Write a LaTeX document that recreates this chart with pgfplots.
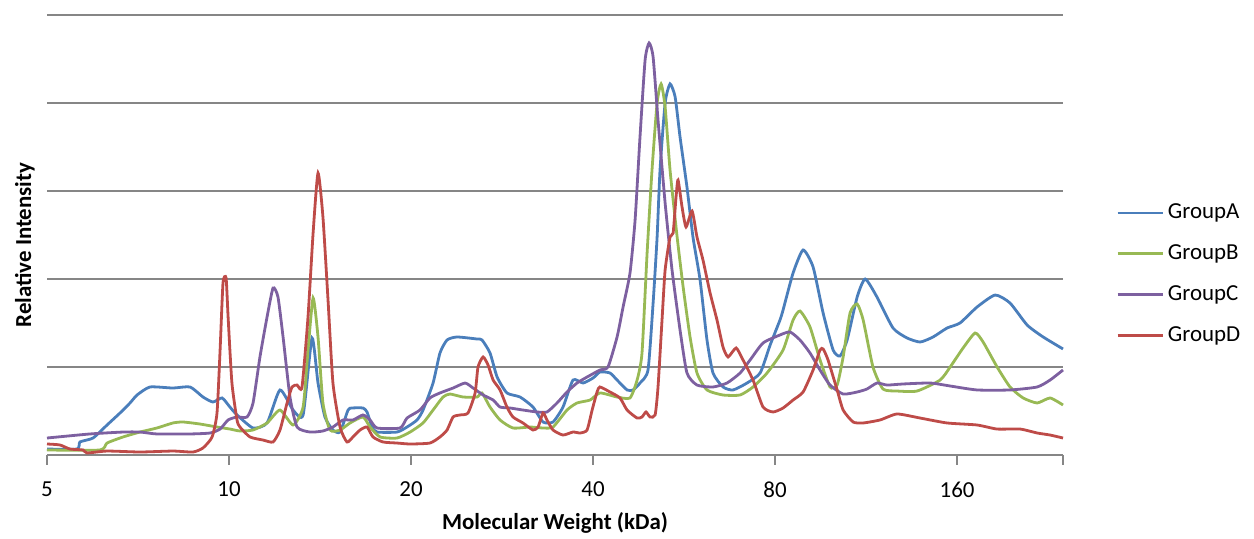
\documentclass[border=0pt]{standalone}
\usepackage{pgfplots}
\pgfplotsset{compat=1.18}
\usepackage{fontspec}
\setmainfont{Carlito}

\definecolor{cA}{HTML}{4A7EBB}
\definecolor{cB}{HTML}{98B954}
\definecolor{cC}{HTML}{7D60A0}
\definecolor{cD}{HTML}{BE4B48}
\definecolor{gridgray}{HTML}{868686}

% x: octaves above 5 kDa (log2 scale), y: relative intensity
\begin{document}
\begin{tikzpicture}[x=1bp,y=1bp]
\path[use as bounding box] (-23.5bp,-42bp) rectangle (603.5bp,227.5bp);
\begin{axis}[
    scale only axis,
    width=508bp, height=220bp,
    xmin=0, xmax=5.582,
    ymin=0, ymax=5,
    font=\fontsize{11.5}{13}\selectfont,
    axis x line*=bottom,
    axis y line*=left,
    x axis line style={gridgray, line width=0.75bp},
    y axis line style={draw=none},
    xtick={0,1,2,3,4,5},
    xticklabels={5,10,20,40,80,160},
    extra x ticks={5.582},
    extra x tick labels={},
    xtick align=outside,
    major tick length=5bp,
    xtick style={gridgray, line width=0.75bp},
    ytick style={draw=none},
    xticklabel style={yshift=-5bp},
    ytick={1,2,3,4,5},
    yticklabels={},
    ymajorgrids,
    grid style={gridgray, line width=0.75bp},
    xlabel={\textbf{Molecular Weight (kDa)}},
    ylabel={\textbf{Relative Intensity}},
    x label style={at={(axis description cs:0.5,-0.1545)}, anchor=center},
    y label style={at={(axis description cs:-0.0217,0.477)}, anchor=center},
    legend style={at={(axis description cs:1.046,0.411)}, anchor=west,
        draw=none, fill=none, row sep=7.5bp, font=\fontsize{11.5}{13}\selectfont},
    legend cell align=left,
    legend image code/.code={\draw[#1] (0bp,0bp) -- (22.5bp,0bp);},
    every axis plot/.append style={line width=1.4bp, smooth, tension=0.35},
    clip=false,
]
\addplot[cA] coordinates {
(0,0.068) (0.165,0.068) (0.181,0.148) (0.253,0.193) (0.330,0.341) (0.401,0.477)
(0.456,0.591) (0.495,0.682) (0.566,0.773) (0.692,0.761) (0.786,0.773) (0.857,0.659)
(0.912,0.602) (0.962,0.648) (1.005,0.545) (1.044,0.455) (1.132,0.307) (1.209,0.364)
(1.280,0.739) (1.352,0.511) (1.407,0.455) (1.456,1.330) (1.489,0.818) (1.527,0.432)
(1.571,0.284) (1.610,0.261) (1.654,0.511) (1.676,0.534) (1.736,0.534) (1.758,0.489)
(1.786,0.318) (1.813,0.261) (1.923,0.261) (1.978,0.318) (2.033,0.398) (2.066,0.511)
(2.121,0.818) (2.159,1.159) (2.198,1.307) (2.253,1.341) (2.363,1.318) (2.390,1.307)
(2.434,1.159) (2.473,0.886) (2.527,0.705) (2.599,0.659) (2.670,0.545) (2.725,0.375)
(2.780,0.375) (2.835,0.545) (2.890,0.852) (2.945,0.818) (3.000,0.875) (3.038,0.943)
(3.093,0.932) (3.132,0.852) (3.187,0.739) (3.220,0.739) (3.258,0.818) (3.302,0.966)
(3.330,1.727) (3.352,2.477) (3.368,3.239) (3.396,4.000) (3.423,4.216) (3.451,4.068)
(3.478,3.614) (3.516,3.045) (3.549,2.477) (3.588,1.989) (3.626,1.307) (3.659,0.932)
(3.714,0.773) (3.769,0.739) (3.846,0.818) (3.918,0.932) (3.973,1.250) (4.027,1.534)
(4.044,1.648) (4.099,2.068) (4.154,2.330) (4.209,2.136) (4.264,1.614) (4.319,1.193)
(4.357,1.125) (4.396,1.307) (4.451,1.795) (4.495,2.000) (4.560,1.795) (4.648,1.443)
(4.725,1.330) (4.797,1.284) (4.868,1.341) (4.945,1.443) (5.016,1.500) (5.110,1.682)
(5.209,1.818) (5.291,1.727) (5.385,1.477) (5.473,1.341) (5.582,1.205)
};
\addlegendentry{GroupA}
\addplot[cB] coordinates {
(0,0.057) (0.291,0.057) (0.330,0.136) (0.418,0.205) (0.511,0.261) (0.604,0.307)
(0.692,0.364) (0.747,0.375) (0.841,0.352) (0.934,0.318) (1.005,0.295) (1.060,0.273)
(1.132,0.284) (1.209,0.364) (1.280,0.511) (1.352,0.341) (1.407,0.545) (1.434,1.193)
(1.462,1.784) (1.489,1.341) (1.516,0.591) (1.555,0.284) (1.610,0.284) (1.665,0.364)
(1.736,0.432) (1.775,0.318) (1.830,0.205) (1.923,0.193) (1.995,0.261) (2.066,0.364)
(2.121,0.511) (2.176,0.659) (2.214,0.693) (2.286,0.659) (2.363,0.659) (2.390,0.705)
(2.434,0.545) (2.489,0.398) (2.560,0.307) (2.654,0.318) (2.725,0.307) (2.780,0.318)
(2.857,0.511) (2.912,0.591) (2.984,0.625) (3.038,0.705) (3.132,0.659) (3.203,0.648)
(3.242,0.852) (3.269,1.159) (3.297,2.295) (3.324,3.239) (3.352,4.000) (3.374,4.216)
(3.396,3.955) (3.423,3.239) (3.462,2.477) (3.495,1.909) (3.533,1.341) (3.571,0.932)
(3.626,0.739) (3.714,0.682) (3.808,0.682) (3.879,0.773) (3.956,0.932) (4.044,1.193)
(4.099,1.534) (4.137,1.636) (4.192,1.455) (4.247,1.080) (4.302,0.773) (4.341,0.795)
(4.374,1.114) (4.412,1.614) (4.451,1.716) (4.484,1.534) (4.538,1.000) (4.593,0.750)
(4.670,0.727) (4.780,0.727) (4.907,0.852) (4.962,1.000) (5.033,1.216) (5.099,1.386)
(5.143,1.284) (5.220,1.000) (5.291,0.773) (5.363,0.648) (5.440,0.591) (5.511,0.648)
(5.582,0.568)
};
\addlegendentry{GroupB}
\addplot[cC] coordinates {
(0,0.193) (0.236,0.239) (0.418,0.261) (0.511,0.261) (0.604,0.239) (0.786,0.239)
(0.896,0.250) (0.951,0.295) (0.995,0.398) (1.044,0.432) (1.099,0.432) (1.132,0.591)
(1.170,1.114) (1.209,1.568) (1.242,1.898) (1.269,1.795) (1.297,1.341) (1.335,0.659)
(1.374,0.318) (1.445,0.261) (1.516,0.273) (1.571,0.318) (1.626,0.398) (1.681,0.398)
(1.736,0.455) (1.775,0.398) (1.813,0.307) (1.940,0.307) (1.978,0.420) (2.049,0.511)
(2.104,0.648) (2.159,0.705) (2.231,0.761) (2.297,0.818) (2.341,0.761) (2.396,0.682)
(2.451,0.625) (2.489,0.545) (2.544,0.534) (2.615,0.511) (2.692,0.489) (2.747,0.489)
(2.802,0.591) (2.857,0.716) (2.912,0.818) (2.967,0.886) (3.038,0.966) (3.082,1.000)
(3.132,1.341) (3.165,1.682) (3.203,2.068) (3.231,2.670) (3.258,3.614) (3.286,4.489)
(3.308,4.682) (3.330,4.523) (3.357,3.807) (3.396,2.864) (3.434,2.102) (3.478,1.420)
(3.516,0.932) (3.571,0.795) (3.659,0.773) (3.736,0.818) (3.808,0.932) (3.863,1.080)
(3.934,1.273) (4.027,1.364) (4.082,1.398) (4.137,1.307) (4.192,1.159) (4.247,0.966)
(4.302,0.795) (4.374,0.693) (4.451,0.716) (4.505,0.750) (4.560,0.818) (4.615,0.795)
(4.703,0.807) (4.852,0.818) (4.962,0.784) (5.110,0.739) (5.291,0.739) (5.440,0.773)
(5.511,0.852) (5.582,0.966)
};
\addlegendentry{GroupC}
\addplot[cD] coordinates {
(0,0.125) (0.071,0.114) (0.126,0.068) (0.198,0.057) (0.220,0.023) (0.330,0.045)
(0.511,0.034) (0.692,0.045) (0.802,0.034) (0.857,0.080) (0.907,0.205) (0.934,0.477)
(0.951,1.193) (0.967,1.955) (0.984,2.011) (0.995,1.568) (1.016,0.818) (1.044,0.398)
(1.060,0.318) (1.115,0.205) (1.187,0.170) (1.242,0.148) (1.280,0.284) (1.319,0.591)
(1.346,0.773) (1.374,0.795) (1.401,0.773) (1.434,1.568) (1.462,2.523) (1.489,3.205)
(1.516,2.705) (1.544,1.761) (1.571,0.818) (1.610,0.318) (1.648,0.148) (1.681,0.205)
(1.720,0.284) (1.758,0.318) (1.791,0.205) (1.846,0.148) (1.923,0.136) (1.995,0.125)
(2.104,0.136) (2.159,0.205) (2.198,0.284) (2.231,0.432) (2.269,0.455) (2.313,0.477)
(2.352,0.705) (2.368,1.000) (2.396,1.114) (2.423,1.023) (2.451,0.852) (2.489,0.739)
(2.527,0.545) (2.560,0.432) (2.615,0.364) (2.670,0.284) (2.698,0.318) (2.725,0.477)
(2.747,0.398) (2.780,0.284) (2.835,0.227) (2.890,0.261) (2.929,0.250) (2.967,0.284)
(2.995,0.511) (3.022,0.716) (3.038,0.773) (3.093,0.716) (3.148,0.648) (3.187,0.511)
(3.242,0.420) (3.269,0.432) (3.291,0.489) (3.313,0.432) (3.341,0.455) (3.357,0.773)
(3.379,1.534) (3.396,2.102) (3.423,2.477) (3.440,2.523) (3.456,2.932) (3.467,3.125)
(3.489,2.818) (3.511,2.591) (3.544,2.773) (3.571,2.477) (3.604,2.216) (3.643,1.841)
(3.681,1.534) (3.714,1.227) (3.742,1.114) (3.786,1.216) (3.824,1.080) (3.879,0.852)
(3.934,0.545) (3.989,0.489) (4.044,0.534) (4.099,0.625) (4.154,0.716) (4.209,0.966)
(4.247,1.193) (4.264,1.205) (4.291,1.080) (4.341,0.739) (4.374,0.511) (4.429,0.375)
(4.484,0.364) (4.577,0.398) (4.670,0.466) (4.797,0.420) (4.945,0.364) (5.110,0.341)
(5.220,0.295) (5.346,0.295) (5.440,0.250) (5.511,0.227) (5.582,0.193)
};
\addlegendentry{GroupD}
\end{axis}
\end{tikzpicture}
\end{document}
